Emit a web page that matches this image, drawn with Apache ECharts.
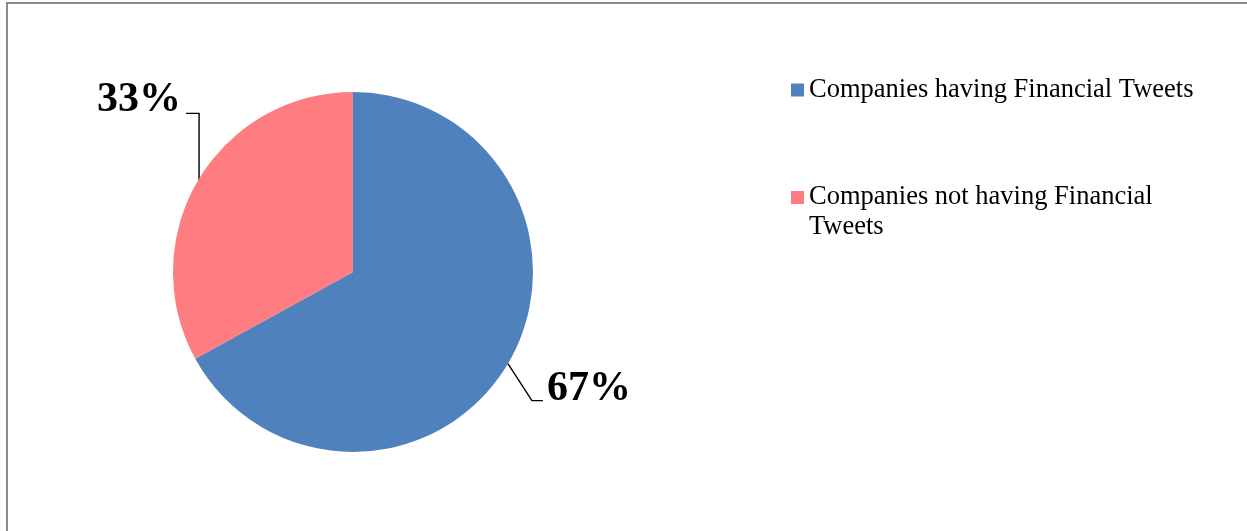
<!DOCTYPE html>
<html>
<head>
<meta charset="utf-8">
<script src="https://cdn.jsdelivr.net/npm/echarts@6/dist/echarts.min.js"></script>
<style>
html,body{margin:0;padding:0;background:#fff;}
#chart{width:1247px;height:531px;}
</style>
</head>
<body>
<div id="chart"></div>
<script>
const categories = ['Companies having Financial Tweets', 'Companies not having Financial Tweets'];
const shares = [67, 33];
const sliceColors = ['#4F81BD', '#FF7C80'];

const serif = "'Liberation Serif', 'Times New Roman', 'DejaVu Serif', serif";
const chart = echarts.init(document.getElementById('chart'));

const CX = 353, CY = 272, R = 180;

// edge point at mid angle, fallback if params lack it
function edgePoint(idx) {
  const total = shares.reduce((a, b) => a + b, 0);
  let before = 0;
  for (let i = 0; i < idx; i++) before += shares[i];
  const mid = 90 - (before + shares[idx] / 2) / total * 360;
  const rad = mid * Math.PI / 180;
  return [CX + R * Math.cos(rad), CY - R * Math.sin(rad)];
}

chart.setOption({
  animation: false,
  backgroundColor: '#fff',
  graphic: [{
    type: 'rect',
    shape: { x: 7, y: 3, width: 1300, height: 600 },
    style: { fill: 'none', stroke: '#8c8c8c', lineWidth: 2 },
    silent: true
  }],
  legend: [{
    data: [categories[0]],
    orient: 'vertical',
    left: 791,
    top: 75,
    padding: 0,
    itemWidth: 13,
    itemHeight: 13,
    itemGap: 10,
    icon: 'rect',
    selectedMode: false,
    textStyle: { fontFamily: serif, fontSize: 26.5, color: '#000', lineHeight: 30 }
  }, {
    data: [categories[1]],
    orient: 'vertical',
    left: 791,
    top: 152.5,
    padding: 0,
    itemWidth: 13,
    itemHeight: 13,
    icon: 'rect',
    selectedMode: false,
    formatter: name => '\n' + name,
    textStyle: { fontFamily: serif, fontSize: 26.5, color: '#000', lineHeight: 30,
      width: 400, overflow: 'break' }
  }],
  series: [{
    type: 'pie',
    center: [CX, CY],
    radius: R,
    startAngle: 90,
    clockwise: true,
    silent: true,
    data: categories.map((c, i) => ({ name: c, value: shares[i], itemStyle: { color: sliceColors[i] } })),
    label: {
      show: true,
      position: 'outside',
      formatter: p => p.value + '%',
      fontFamily: serif,
      fontSize: 42,
      fontWeight: 'bold',
      color: '#000'
    },
    labelLine: {
      show: true,
      length: 20,
      length2: 10,
      lineStyle: { color: '#000', width: 1.4 }
    },
    labelLayout: function (params) {
      const p0 = (params.labelLinePoints && params.labelLinePoints[0]) || edgePoint(params.dataIndex);
      const x0 = p0[0], y0 = p0[1];
      if (params.dataIndex === 0) {
        return {
          x: x0 + 39, y: y0 + 26, align: 'left', verticalAlign: 'middle',
          labelLinePoints: [[x0, y0], [x0 + 24, y0 + 37], [x0 + 35, y0 + 37]]
        };
      }
      return {
        x: x0 - 17, y: y0 - 80, align: 'right', verticalAlign: 'middle',
        labelLinePoints: [[x0 + 1, y0], [x0 + 1, y0 - 67], [x0 - 12, y0 - 67]]
      };
    }
  }]
});
</script>
</body>
</html>
